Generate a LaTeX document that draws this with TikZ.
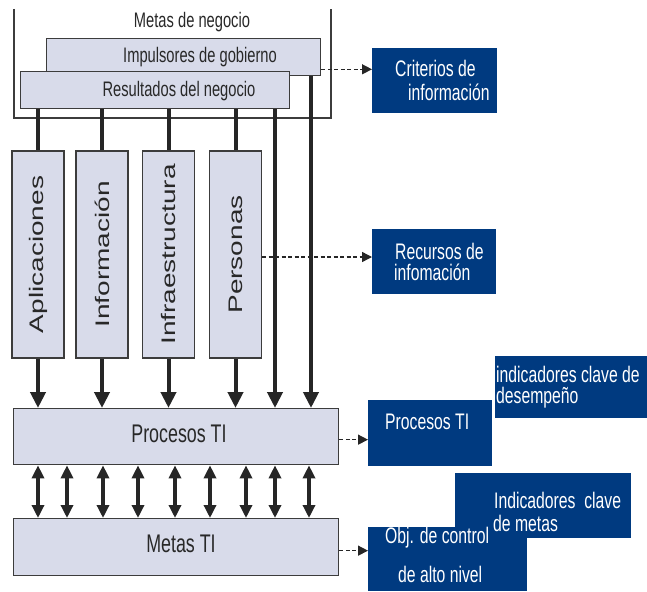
\documentclass[tikz,border=0pt]{standalone}
\usepackage{fontspec}
\setmainfont{Liberation Sans}
\usepackage{graphicx}
\usetikzlibrary{arrows.meta}

\definecolor{navy}{RGB}{0,58,128}
\definecolor{pale}{RGB}{216,219,234}
\definecolor{edge}{RGB}{60,60,60}
\definecolor{ink}{RGB}{40,40,40}

% condensed horizontal text, and squashed text for the rotated column labels
\newcommand\narrowtxt[1]{\scalebox{0.7}[1]{#1}}
\newcommand\squashtxt[1]{\scalebox{1}[0.7]{#1}}

\begin{document}
\begin{tikzpicture}[x=1pt,y=1pt,
  pbox/.style={draw=edge, fill=pale, line width=1.3pt, inner sep=0pt, anchor=north west},
  colbox/.style={draw=edge, fill=pale, line width=1.3pt, inner sep=0pt, rotate=90,
    minimum width=207pt, minimum height=52pt, text=ink, font=\fontsize{28}{32}\selectfont},
  nbox/.style={fill=navy, inner sep=0pt, anchor=north west},
  dtxt/.style={text=ink, inner sep=0pt, anchor=base, font=\fontsize{21}{25}\selectfont},
  bigtxt/.style={text=ink, inner sep=0pt, anchor=base, font=\fontsize{25.5}{30}\selectfont},
  wtxt/.style={text=white, inner sep=0pt, anchor=base west, font=\fontsize{22.5}{27}\selectfont},
  bus/.style={line width=4pt, draw=black!85},
  feed/.style={bus, -{Triangle[length=16pt,width=15pt]}},
  link/.style={line width=3.5pt, draw=black!85,
    {Triangle[length=13pt,width=12pt]}-{Triangle[length=13pt,width=12pt]}},
  dashlink/.style={line width=1.4pt, draw=black!85, dash pattern=on 4pt off 2.5pt,
    -{Triangle[length=10pt,width=10pt]}}
]
\useasboundingbox (0,0) rectangle (647,-591);

% business goals frame, open at the top
\draw[edge, line width=1.3pt] (14,-9) -- (14,-118) -- (331,-118) -- (331,-9);
\node[dtxt] (metasneg) at (192,-28) {\narrowtxt{Metas de negocio}};

\node[pbox, minimum width=274pt, minimum height=37pt] (imp) at (46,-38) {};
\node[dtxt] (implbl) at (200,-63) {\narrowtxt{Impulsores de gobierno}};
\node[pbox, minimum width=269pt, minimum height=37pt] (res) at (20,-71) {};
\node[dtxt] (reslbl) at (179,-97) {\narrowtxt{Resultados del negocio}};

% IT resource columns
\node[colbox] (apl) at (38,-254.5) {\squashtxt{Aplicaciones}};
\node[colbox] (inf) at (102,-254.5) {\squashtxt{Información}};
\node[colbox] (ifr) at (168.5,-254.5) {\squashtxt{Infraestructura}};
\node[colbox] (per) at (235.5,-254.5) {\squashtxt{Personas}};

% IT processes and IT goals
\node[pbox, minimum width=325pt, minimum height=56pt] (proc) at (13,-408) {};
\node[bigtxt] (proclbl) at (179,-442) {\narrowtxt{Procesos TI}};
\node[pbox, minimum width=325pt, minimum height=57pt] (mti) at (13,-518) {};
\node[bigtxt] (mtilbl) at (181,-552.5) {\narrowtxt{Metas TI}};

% blue reference boxes
\node[nbox, minimum width=125pt, minimum height=65pt] (crit) at (372,-48) {};
\node[nbox, minimum width=124pt, minimum height=65pt] (rec) at (372,-229) {};
\node[nbox, minimum width=124pt, minimum height=66pt] (procb) at (368,-400) {};
\node[nbox, minimum width=152pt, minimum height=62pt] (kpi) at (495,-356) {};
\node[nbox, minimum width=176pt, minimum height=65pt] (kgi) at (455,-473) {};
\node[nbox, minimum width=159pt, minimum height=64pt] (obj) at (368,-527) {};

\node[wtxt] (crit1) at (395,-77) {\narrowtxt{Criterios de}};
\node[wtxt] (crit2) at (408,-100) {\narrowtxt{información}};
\node[wtxt] (rec1) at (395,-259) {\narrowtxt{Recursos de}};
\node[wtxt] (rec2) at (394,-280) {\narrowtxt{infomación}};
\node[wtxt] (procb1) at (385,-429) {\narrowtxt{Procesos TI}};
\node[wtxt] (kpi1) at (496,-382) {\narrowtxt{indicadores clave de}};
\node[wtxt] (kpi2) at (496,-403) {\narrowtxt{desempeño}};
\node[wtxt] (kgi1) at (494,-508) {\narrowtxt{Indicadores~ clave}};
\node[wtxt] (kgi2) at (493,-531) {\narrowtxt{de metas}};
\node[wtxt] (obj1) at (385,-543) {\narrowtxt{Obj. de control}};
\node[wtxt] (obj2) at (398,-582) {\narrowtxt{de alto nivel}};

% dashed references
\coordinate (critout) at ([yshift=7pt]imp.south east);
\draw[dashlink] (critout) -- (critout -| crit.west);
\coordinate (recout) at ([yshift=-2.5pt]per.south);
\draw[dashlink] (recout) -- (recout -| rec.west);
\coordinate (procout) at ([yshift=-3pt]proc.east);
\draw[dashlink] (procout) -- (procout -| procb.west);
\coordinate (mtiout) at ([yshift=-3.5pt]mti.east);
\draw[dashlink] (mtiout) -- (mtiout -| obj.west);

% results feed the resource columns
\foreach \c in {apl,inf,ifr,per}{
  \draw[bus] (res.south -| \c.east) -- (\c.east);
  \draw[feed] (\c.west) -- (\c.west |- proc.north);
}
% direct feeds into the IT processes
\coordinate (res5) at (res.south -| 275,0);
\draw[feed] (res5) -- (res5 |- proc.north);
\coordinate (imp6) at (imp.south -| 311,0);
\draw[feed] (imp6) -- (imp6 |- proc.north);

% two-way links between processes and goals
\foreach \x in {38,67,103,138,175,210,246,275,309}
  \draw[link] (proc.south -| \x,0) -- (mti.north -| \x,0);
\end{tikzpicture}
\end{document}
